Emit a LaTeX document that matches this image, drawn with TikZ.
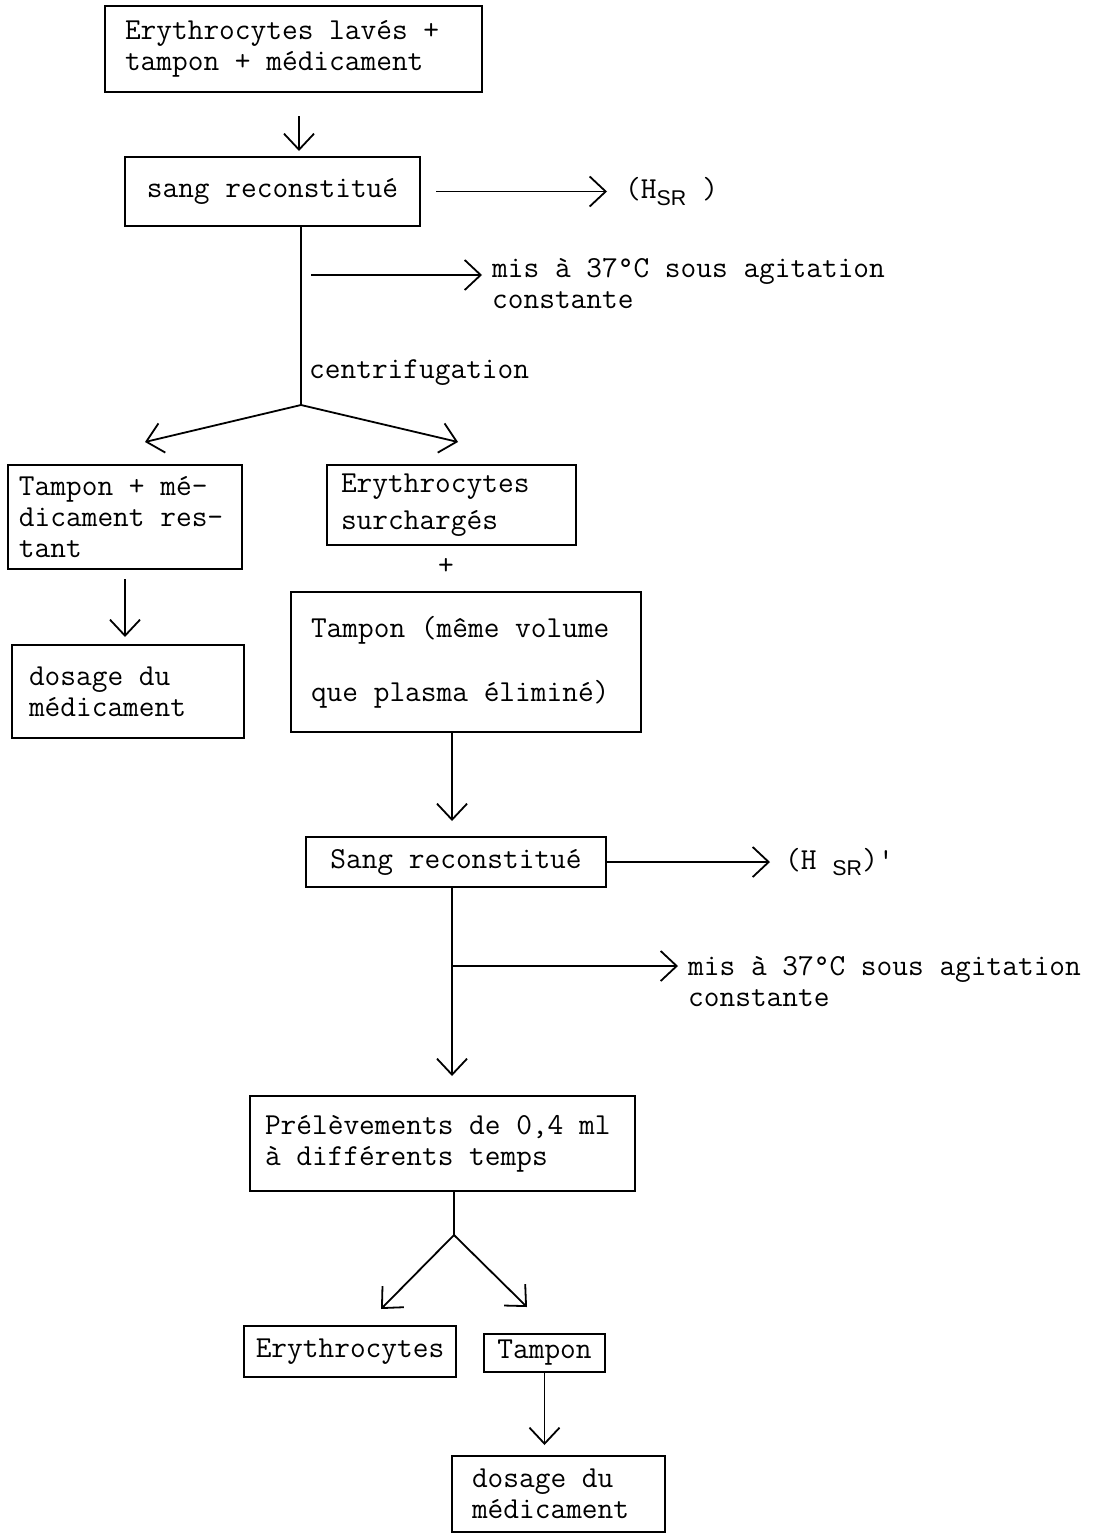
\documentclass[tikz,border=0pt]{standalone}
\usepackage{fontspec}
\newfontfamily\srfont{Liberation Sans}
\usetikzlibrary{calc}
\usetikzlibrary{positioning,shapes,arrows,arrows.meta}
\tikzstyle{stepbox} = [rectangle, draw=black, line width=2pt, align=flush left, inner ysep=2pt]
\tikzstyle{onebox} = [rectangle, draw=black, line width=2pt, text centered]
\tikzstyle{sidetext} = [inner sep=0pt, align=flush left, anchor=west]
\tikzstyle{arrow} = [-{Straight Barb[length=16pt,width=30pt]}, line width=1.8pt]
\tikzstyle{link} = [line width=1.8pt]

\begin{document}
\begin{tikzpicture}[x=1pt, y=-1pt, every node/.style={font=\ttfamily\fontsize{30.5pt}{31pt}\selectfont}]
		\useasboundingbox (0,0) rectangle (1099,1534);
		
		\node (washed) [stepbox, minimum width=377pt, minimum height=86pt, inner xsep=20pt, text width=337pt] at (293.5,49) {Erythrocytes lavés +\\tampon + médicament};
		\node (blood) [onebox, minimum width=295pt, minimum height=69pt] at (272.5,191.5) {sang reconstitué};
		\node (rest) [stepbox, minimum width=234pt, minimum height=104pt, inner xsep=11pt, text width=212pt] at (125,517) {Tampon + mé-\\dicament res-\\tant};
		\node (loaded) [stepbox, minimum width=249pt, minimum height=80pt, inner xsep=14pt, text width=221pt] at (451.5,505) {Erythrocytes\\[6pt]surchargés};
		\node (plus) at (446,566) {+};
		\node (buffer) [stepbox, minimum width=350pt, minimum height=140pt, inner xsep=20pt, text width=310pt] at (466,662) {Tampon (même volume\\[33pt]que plasma éliminé)};
		\node (assay1) [stepbox, minimum width=232pt, minimum height=93pt, inner xsep=17pt, text width=198pt] at (128,691.5) {dosage du\\médicament};
		\node (blood2) [onebox, minimum width=300pt, minimum height=50pt] at (456,862) {Sang reconstitué};
		\node (samples) [stepbox, minimum width=385pt, minimum height=95pt, inner xsep=15pt, text width=355pt] at (442.5,1143.5) {Prélèvements de 0,4 ml\\à différents temps};
		\node (cells) [onebox, minimum width=212pt, minimum height=51pt] at (350,1351.5) {Erythrocytes};
		\node (buffer2) [onebox, minimum width=121pt, minimum height=38pt, inner sep=2pt] at (544.5,1353) {Tampon};
		\node (assay2) [stepbox, minimum width=213pt, minimum height=76pt, inner xsep=20pt, text width=173pt] at (558.5,1494) {dosage du\\médicament};
		
		\node (hsr) [sidetext] at (625,191.5) {(H\textsubscript{\srfont SR} )};
		\node (stir1) [sidetext] at (492,284) {mis à 37°C sous agitation\\constante};
		\node (spin) [sidetext] at (309,373) {centrifugation};
		\node (hsr2) [sidetext] at (785,862) {(H \textsubscript{\srfont SR})'};
		\node (stir2) [sidetext] at (688,982) {mis à 37°C sous agitation\\constante};
		
		\coordinate (fork1) at (301,405);
		\coordinate (mix1) at (301,275);
		\coordinate (spine) at (452,0);
		\coordinate (mix2) at (452,966);
		\coordinate (fork2) at (454,1235);
		
		\draw [arrow] ([shift={(5.5pt,-23pt)}]washed.south) -- ([shift={(26.5pt,5pt)}]blood.north);
		\draw [arrow, shorten >=18pt] ([xshift=15pt]blood.east) -- (blood.east -| hsr.west);
		\draw [link] (blood.south -| fork1) -- (fork1);
		\draw [arrow, shorten <=10pt, shorten >=10pt] (mix1) -- (mix1 -| stir1.west);
		\draw [arrow] (fork1) -- ([shift={(20pt,22pt)}]rest.north);
		\draw [arrow] (fork1) -- ([shift={(6.5pt,22pt)}]loaded.north);
		\draw [arrow, shorten <=9pt, shorten >=7pt] (rest.south) -- (rest.south |- assay1.north);
		\draw [arrow, shorten >=15pt] (buffer.south -| spine) -- (blood2.north -| spine);
		\draw [arrow, shorten >=15pt] (blood2.east) -- (blood2.east -| hsr2.west);
		\draw [arrow, shorten >=19pt] (blood2.south -| spine) -- (samples.north -| spine);
		\draw [arrow, shorten >=10pt] (mix2) -- (mix2 -| stir2.west);
		\draw [link] (samples.south -| fork2) -- (fork2);
		\draw [arrow] (fork2) -- ([shift={(31pt,16pt)}]cells.north);
		\draw [arrow] (fork2) -- ([shift={(-17.5pt,26pt)}]buffer2.north);
		\draw [arrow, shorten >=10pt] (buffer2.south) -- (buffer2.south |- assay2.north);
		
	\end{tikzpicture}
\end{document}
